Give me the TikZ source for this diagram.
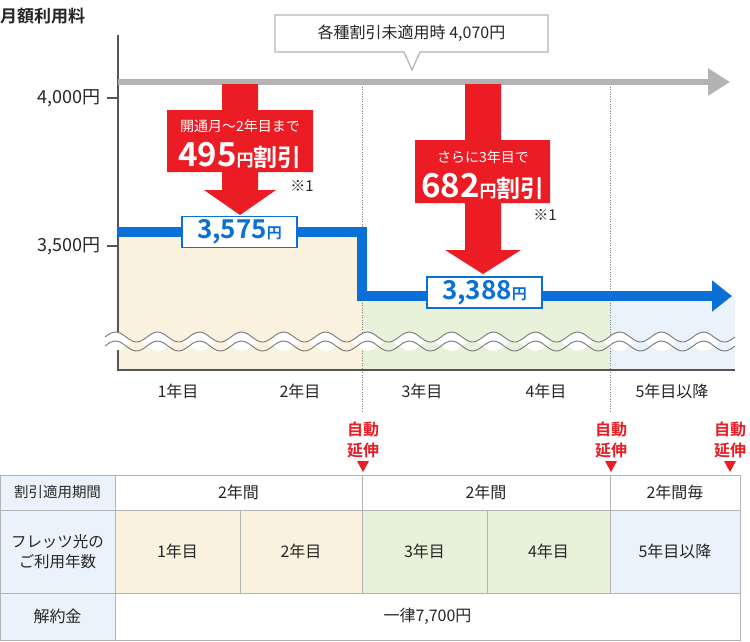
\documentclass[tikz,border=0pt]{standalone}
\usepackage{fontspec}
\setmainfont{Noto Sans CJK JP}
\newfontfamily\jpb{Noto Sans CJK JP Bold}
\usetikzlibrary{arrows.meta,calc}
\definecolor{rd}{HTML}{EC1C24}
\definecolor{bl}{HTML}{0A6FD6}
\definecolor{beige}{HTML}{FAF1DF}
\definecolor{grn}{HTML}{E8F2DA}
\definecolor{lbl}{HTML}{EAF3FB}
\definecolor{gr}{HTML}{B3B3B3}
\definecolor{ax}{HTML}{555555}
\tikzset{lab/.style={font=\fontsize{15}{18}\selectfont,text=black!85},
 price/.style={draw=bl,line width=1.5pt,fill=white,text=bl,inner sep=0pt,minimum height=31pt},
 cell/.style={draw=gr,line width=0.6pt},
 ext/.style={text=rd,font=\jpb\fontsize{16}{21}\selectfont,align=center}}
\begin{document}
\begin{tikzpicture}[x=1pt,y=-1pt]
\useasboundingbox (0,0) rectangle (750,641);
\node[anchor=west,font=\jpb\fontsize{17}{19}\selectfont,text=black!85,inner sep=0pt] (title) at (0,16) {月額利用料};
% fills
\fill[beige] (118,232) rectangle (362,370);
\fill[grn] (362,296) rectangle (610,370);
\fill[lbl] (610,296) rectangle (735,370);
% dotted
\draw[gray,dotted] (362,82) -- (362,412);
\draw[gray,dotted] (610,82) -- (610,412);
% wavy break
\fill[white] (105,337) foreach \i in {1,...,15}{ sin ++(10.5,-5) cos ++(10.5,5) sin ++(10.5,5) cos ++(10.5,-5)} -- ++(0,9) \foreach \i in {1,...,15}{ sin ++(-10.5,-5) cos ++(-10.5,5) sin ++(-10.5,5) cos ++(-10.5,-5)} -- cycle;
\draw[ax!80,line width=0.9pt] (105,337) \foreach \i in {1,...,15}{ sin ++(10.5,-5) cos ++(10.5,5) sin ++(10.5,5) cos ++(10.5,-5)};
\draw[ax!80,line width=0.9pt] (105,346) \foreach \i in {1,...,15}{ sin ++(10.5,-5) cos ++(10.5,5) sin ++(10.5,5) cos ++(10.5,-5)};
% axes
\coordinate (o) at (118,370);
\coordinate (top) at (118,35);
\coordinate (xend) at (735,370);
\draw[ax,line width=1.2pt] (top) -- (118,332);
\draw[ax,line width=1.2pt] (118,350) -- (o) -- (xend);
\draw[ax,line width=1.2pt] (107,98) -- (118,98);
\draw[ax,line width=1.2pt] (107,246) -- (118,246);
\node[lab,anchor=east,font=\fontsize{18}{20}\selectfont,inner sep=2pt] (t4000) at (103,98) {4,000円};
\node[lab,anchor=east,font=\fontsize{18}{20}\selectfont,inner sep=2pt] (t3500) at (103,246) {3,500円};
% gray arrow
\coordinate (g0) at (118,82);
\coordinate (g1) at (730,82);
\draw[gr,line width=6pt,-{Triangle[length=22pt,width=26pt]}] (g0) -- (g1);
% callout
\draw[gr,line width=1.2pt,fill=white] (275,15) -- (548,15) -- (548,52) -- (420,52) -- (412,70) -- (404,52) -- (275,52) -- cycle;
\node[lab,font=\fontsize{16}{18}\selectfont] (call) at (411.5,33.5) {各種割引未適用時 4,070円};
% blue line
\draw[bl,line width=10pt,-{Triangle[length=20pt,width=30pt]}] (118,232) -- (362,232) -- (362,296) -- (732,296);
% red arrow 1
\fill[rd] (222,84) -- (258,84) -- (258,110) -- (313,110) -- (313,172) -- (258,172) -- (258,190) -- (276,190) -- (240,215) -- (204,190) -- (222,190) -- (222,172) -- (167,172) -- (167,110) -- (222,110) -- cycle;
\node[text=white,font=\fontsize{14}{16}\selectfont] (r1a) at (240,126) {開通月～2年目まで};
\node[text=white] (r1b) at (240,155) {{\jpb\fontsize{33}{34}\selectfont 495}{\jpb\fontsize{17}{18}\selectfont 円}{\jpb\fontsize{24}{26}\selectfont 割引}};
\node[lab] (n1) at (302,186) {※1};
% red arrow 2
\fill[rd] (465,84) -- (501,84) -- (501,140) -- (550,140) -- (550,203) -- (501,203) -- (501,250) -- (521,250) -- (483,274) -- (445,250) -- (465,250) -- (465,203) -- (415,203) -- (415,140) -- (465,140) -- cycle;
\node[text=white,font=\fontsize{14}{16}\selectfont] (r2a) at (483,157) {さらに3年目で};
\node[text=white] (r2b) at (483,186) {{\jpb\fontsize{33}{34}\selectfont 682}{\jpb\fontsize{17}{18}\selectfont 円}{\jpb\fontsize{24}{26}\selectfont 割引}};
\node[lab] (n2) at (545,215) {※1};
% prices
\node[price,minimum width=115pt] (p1) at (239.5,232) {{\jpb\fontsize{26}{27}\selectfont 3,575}{\jpb\fontsize{15}{16}\selectfont 円}};
\node[price,minimum width=115pt] (p2) at (484.5,292.5) {{\jpb\fontsize{26}{27}\selectfont 3,388}{\jpb\fontsize{15}{16}\selectfont 円}};
% year labels
\foreach \x/\t/\n in {178/1年目/y1,300/2年目/y2,422/3年目/y3,546/4年目/y4,672/5年目以降/y5}
  \node[lab,font=\fontsize{16}{18}\selectfont] (\n) at (\x,391) {\t};
% extensions
\foreach \x/\n in {363/e1,611/e2,730/e3}{
  \node[ext,inner sep=0pt] (\n) at (\x,440) {自動\\延伸};
  \fill[rd] (\x-6,461) -- (\x+6,461) -- (\x,472) -- cycle;}
% table
\fill[lbl] (0,475) rectangle (115,641);
\fill[beige] (115,510) rectangle (362,593);
\fill[grn] (362,510) rectangle (610,593);
\fill[lbl] (610,510) rectangle (740,593);
\draw[cell] (0,475) rectangle (740,640);
\draw[cell] (0,510) -- (740,510);
\draw[cell] (0,593) -- (740,593);
\draw[cell] (115,475) -- (115,640);
\draw[cell] (362,475) -- (362,593);
\draw[cell] (610,475) -- (610,593);
\draw[cell] (240,510) -- (240,593);
\draw[cell] (487,510) -- (487,593);
\tikzset{tt/.style={lab,font=\fontsize{16}{20}\selectfont,align=center}}
\node[tt,font=\fontsize{14.5}{17}\selectfont] (h1) at (57.5,492.5) {割引適用期間};
\node[tt,font=\fontsize{15.5}{20}\selectfont] (h2) at (57.5,551.5) {フレッツ光の\\ご利用年数};
\node[tt] (h3) at (57.5,616.5) {解約金};
\node[tt] (c1) at (238.5,492.5) {2年間};
\node[tt] (c2) at (486,492.5) {2年間};
\node[tt] (c3) at (675,492.5) {2年間毎};
\node[tt] (d1) at (177.5,551.5) {1年目};
\node[tt] (d2) at (301,551.5) {2年目};
\node[tt] (d3) at (424.5,551.5) {3年目};
\node[tt] (d4) at (548.5,551.5) {4年目};
\node[tt] (d5) at (675,551.5) {5年目以降};
\node[tt] (f1) at (427.5,616.5) {一律7,700円};
\end{tikzpicture}
\end{document}
